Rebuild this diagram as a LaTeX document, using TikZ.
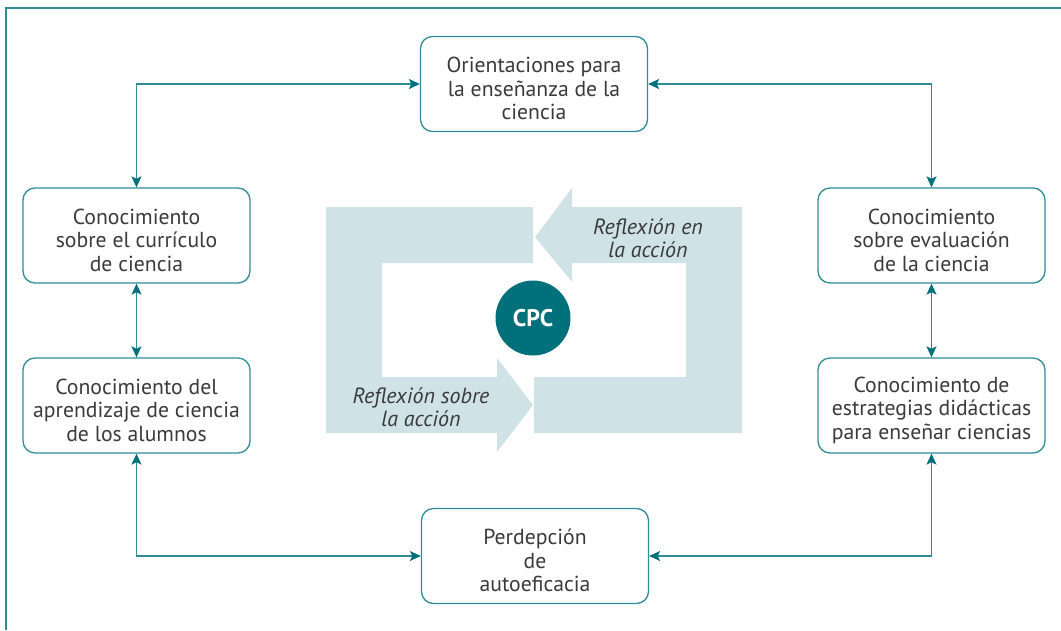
\documentclass[tikz,border=0pt]{standalone}
\usepackage{fontspec}
\setmainfont{PT Sans}
\usetikzlibrary{arrows.meta}
\definecolor{tealline}{HTML}{2E8C96}
\definecolor{tealdark}{HTML}{00707A}
\definecolor{cyclefill}{HTML}{CFE2E6}
\definecolor{textgray}{HTML}{3A3A3A}
\newcommand\boxstrut{\rule{0pt}{25pt}}
\begin{document}
\begin{tikzpicture}[x=1pt,y=-1pt,
  box/.style={draw=tealline, line width=1.3pt, rounded corners=12pt,
    minimum width=227pt, minimum height=95pt, inner sep=0pt,
    align=center, text=textgray, font=\fontsize{21.7}{23.5}\selectfont},
  link/.style={draw=tealline, line width=1.3pt, {Stealth[length=11pt,width=10pt,inset=2.5pt,color=tealdark]}-{Stealth[length=11pt,width=10pt,inset=2.5pt,color=tealdark]}},
  note/.style={align=center, text=textgray, font=\itshape\fontsize{22}{23.5}\selectfont}]
  \useasboundingbox (0,0) rectangle (1061,630);
  % frame
  \draw [tealline, line width=1.5pt] (6,630) -- (6,8) -- (1061,8);
  % cycle of reflection
  \fill [cyclefill] (533,207) -- (533,263) -- (382,263) -- (382,377) -- (497,377) -- (497,358)
    -- (533,405) -- (497,452) -- (497,433) -- (326,433) -- (326,207) -- cycle;
  \fill [cyclefill] (535,237) -- (572,188) -- (572,207) -- (742,207) -- (742,433) -- (534,433)
    -- (534,377) -- (686,377) -- (686,263) -- (572,263) -- (572,282) -- cycle;
  \node [note] (enaccion) at (648,238) {Reflexión en\\la acción};
  \node [note] (sobreaccion) at (421,407) {Reflexión sobre\\la acción};
  \node [circle, fill=tealdark, minimum size=75pt, inner sep=0pt, text=white,
    font=\bfseries\fontsize{24}{26}\selectfont] (cpc) at (533,318) {CPC};
  % boxes
  \node [box] (orient) at (534,84) {\boxstrut Orientaciones para\\la enseñanza de la\\ciencia};
  \node [box] (curric) at (136.5,235.5) {\boxstrut Conocimiento\\sobre el currículo\\de ciencia};
  \node [box] (aprend) at (136.5,405.5) {\boxstrut Conocimiento del\\aprendizaje de ciencia\\de los alumnos};
  \node [box] (evalua) at (931.5,235.5) {\boxstrut Conocimiento\\sobre evaluación\\de la ciencia};
  \node [box] (estrat) at (931.5,405.5) {\boxstrut Conocimiento de\\estrategias didácticas\\para enseñar ciencias};
  \node [box] (percep) at (535,556) {\boxstrut Perdepción\\de\\autoeficacia};
  % connectors
  \draw [link] (curric.north) |- (orient.west);
  \draw [link] (evalua.north) |- (orient.east);
  \draw [link] (curric.south) -- (aprend.north);
  \draw [link] (evalua.south) -- (estrat.north);
  \draw [link] (aprend.south) |- (percep.west);
  \draw [link] (estrat.south) |- (percep.east);
\end{tikzpicture}
\end{document}
